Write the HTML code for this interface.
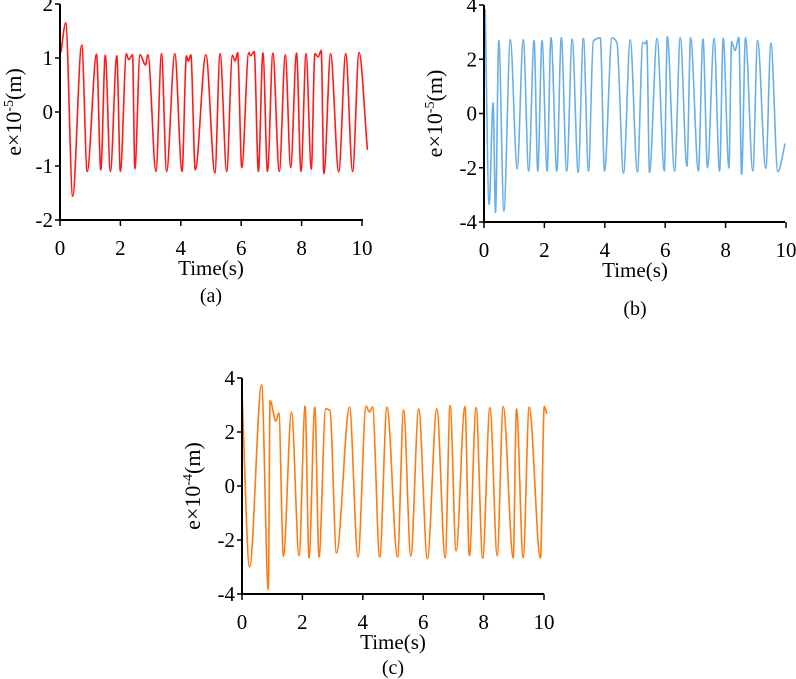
<!DOCTYPE html>
<html><head><meta charset="utf-8">
<style>
html,body{margin:0;padding:0;background:#fff;}
svg{display:block;font-family:"Liberation Serif",serif;}
</style></head>
<body>
<svg id="fig" width="796" height="679" viewBox="0 0 796 679" xmlns="http://www.w3.org/2000/svg"></svg>
<script>
// Chart (a) data
const timeA=[0.03,0.19,0.42,0.72,0.9,1.21,1.35,1.5,1.67,1.88,2.0,2.2,2.27,2.4,2.48,2.65,2.83,2.91,3.18,3.36,3.53,3.8,4.04,4.19,4.25,4.33,4.48,4.83,5.13,5.3,5.52,5.71,5.8,5.88,6.02,6.25,6.31,6.43,6.57,6.72,6.87,7.05,7.26,7.46,7.64,7.83,7.98,8.15,8.32,8.44,8.55,8.65,8.74,8.96,9.23,9.46,9.69,9.9,10.18];
const valA=[1.1,1.65,-1.56,1.24,-1.1,1.07,-1.07,1.05,-1.1,1.04,-1.1,1.08,0.97,1.06,-1.05,1.06,0.87,1.06,-1.1,1.08,-1.1,1.08,-1.1,1.04,0.94,1.06,-1.07,1.06,-1.13,1.08,-1.1,1.05,0.94,1.1,-1.03,1.1,1.04,1.12,-1.1,1.09,-1.1,1.09,-1.1,1.06,-1.03,1.09,-1.1,1.08,-1.06,1.08,1.02,1.14,-1.14,1.08,-1.11,1.08,-1.1,1.1,-0.7];
const xTicksA=[0,2,4,6,8,10];
const yTicksA=[-2,-1,0,1,2];
// Chart (b) data
const timeB=[0.04,0.17,0.3,0.38,0.49,0.66,0.87,1.1,1.3,1.48,1.66,1.78,1.92,2.09,2.22,2.41,2.56,2.74,2.92,3.12,3.29,3.46,3.62,3.85,3.99,4.24,4.4,4.62,4.84,5.08,5.26,5.34,5.39,5.48,5.73,5.97,6.07,6.31,6.5,6.72,6.84,7.1,7.25,7.4,7.62,7.8,7.92,8.11,8.2,8.31,8.44,8.53,8.66,8.9,9.06,9.33,9.5,9.73,9.97];
const valB=[3.85,-3.36,0.4,-3.65,2.69,-3.6,2.72,-2.04,2.72,-2.12,2.69,-2.12,2.69,-2.12,2.79,-2.12,2.79,-2.12,2.74,-2.16,2.77,-2.12,2.67,2.79,-2.12,2.79,2.62,-2.2,2.72,-2.16,2.62,2.57,2.69,-2.17,2.77,-2.12,2.84,-2.12,2.79,-1.95,2.79,-2.12,2.74,-2.0,2.77,-2.12,2.77,-2.0,2.65,2.32,2.81,-2.25,2.79,-2.12,2.69,-2.02,2.59,-2.15,-1.11];
const xTicksB=[0,2,4,6,8,10];
const yTicksB=[-4,-2,0,2,4];
// Chart (c) data
const timeC=[0,0.25,0.65,0.87,0.93,1.12,1.22,1.37,1.64,1.89,2.09,2.22,2.41,2.55,2.77,2.91,3.13,3.56,3.84,4.11,4.22,4.32,4.56,4.8,5.15,5.35,5.59,5.85,6.14,6.45,6.73,6.89,7.09,7.38,7.53,7.75,7.97,8.21,8.45,8.65,8.98,9.09,9.31,9.51,9.88,10.01,10.1];
const valC=[3.47,-3.0,3.75,-3.83,3.17,2.4,2.7,-2.6,2.74,-2.58,2.96,-2.66,2.92,-2.63,2.86,2.8,-2.48,2.92,-2.63,2.96,2.74,2.92,-2.63,2.92,-2.63,2.82,-2.6,2.86,-2.7,2.86,-2.66,2.98,-2.4,2.94,-2.58,2.9,-2.67,2.9,-2.58,2.94,-2.66,2.85,-2.65,2.92,-2.67,2.94,2.67];
const xTicksC=[0,2,4,6,8,10];
const yTicksC=[-4,-2,0,2,4];

const NS="http://www.w3.org/2000/svg";
const svg=document.getElementById('fig');
function mk(tag,attrs,parent){const e=document.createElementNS(NS,tag);for(const k in attrs)e.setAttribute(k,attrs[k]);(parent||svg).appendChild(e);return e;}

function monotonePath(pts){
  const n=pts.length, dx=[], m=[], s=[];
  for(let i=0;i<n-1;i++){dx[i]=pts[i+1][0]-pts[i][0];s[i]=(pts[i+1][1]-pts[i][1])/dx[i];}
  m[0]=s[0];m[n-1]=s[n-2];
  for(let i=1;i<n-1;i++){m[i]=(s[i-1]*s[i]<=0)?0:(3*(dx[i-1]+dx[i]))/((2*dx[i]+dx[i-1])/s[i-1]+(dx[i]+2*dx[i-1])/s[i]);}
  let d='M'+pts[0][0].toFixed(1)+','+pts[0][1].toFixed(1);
  for(let i=0;i<n-1;i++){
    const h=dx[i]/3;
    d+=' C'+(pts[i][0]+h).toFixed(1)+','+(pts[i][1]+m[i]*h).toFixed(1)+' '+(pts[i+1][0]-h).toFixed(1)+','+(pts[i+1][1]-m[i+1]*h).toFixed(1)+' '+pts[i+1][0].toFixed(1)+','+pts[i+1][1].toFixed(1);
  }
  return d;
}

function drawChart(id,cfg,times,vals,xTicks,yTicks){
  const g=mk('g',{});
  
  
  const sx=t=>cfg.x0+t/10*(cfg.x10-cfg.x0);
  const ymax=yTicks[yTicks.length-1], ymin=yTicks[0];
  const sy=v=>cfg.yTop+(ymax-v)/(ymax-ymin)*(cfg.yBot-cfg.yTop);
  const pts=times.map((t,i)=>[sx(t),sy(vals[i])]);
  const line=mk('path',{d:monotonePath(pts),fill:'none',stroke:cfg.color,'stroke-width':1.6,'stroke-linejoin':'round'},g);
  
  
  const ya=mk('line',{x1:cfg.x0,y1:cfg.yTop,x2:cfg.x0,y2:cfg.yBot+1,stroke:'#000','stroke-width':2},g);
  
  
  const xa=mk('line',{x1:cfg.x0-1,y1:cfg.yBot,x2:cfg.xEnd,y2:cfg.yBot,stroke:'#000','stroke-width':2},g);
  
  
  yTicks.forEach(v=>{
    const y=sy(v);
    mk('line',{x1:cfg.x0-5,y1:y,x2:cfg.x0,y2:y,stroke:'#000','stroke-width':1.5},g);
    const t=mk('text',{x:cfg.x0-7,y:y+7,'font-size':21,'text-anchor':'end'},g);
    t.textContent=String(v);
    
    
  });
  xTicks.forEach(v=>{
    const x=sx(v);
    mk('line',{x1:x,y1:cfg.yBot,x2:x,y2:cfg.yBot+6,stroke:'#000','stroke-width':1.5},g);
    const t=mk('text',{x:x,y:cfg.yBot+35,'font-size':21,'text-anchor':'middle'},g);
    t.textContent=String(v);
    
    
  });
  const xt=mk('text',{x:(cfg.x0+cfg.x10)/2,y:cfg.yBot+55,'font-size':21,'text-anchor':'middle'},g);
  xt.textContent='Time(s)';
  
  
  const cap=mk('text',{x:(cfg.x0+cfg.x10)/2,y:cfg.capY,'font-size':20,'text-anchor':'middle'},g);
  cap.textContent='('+id+')';
  
  
  const cy=(cfg.yTop+cfg.yBot)/2;
  const yt=mk('text',{x:cfg.ylx,y:cy,'font-size':22,'text-anchor':'middle',transform:'rotate(-90 '+cfg.ylx+' '+cy+')'},g);
  
  
  yt.appendChild(document.createTextNode('e×10'));
  const sup=mk('tspan',{'font-size':14,dy:-8},yt);sup.textContent=cfg.exp;
  const rest=mk('tspan',{dy:8},yt);rest.textContent='(m)';
}

drawChart('a',{x0:60,x10:362,xEnd:363,yTop:4,yBot:220,color:'#ff1a1a',exp:'-5',ylx:21,capY:302},timeA,valA,xTicksA,yTicksA);
drawChart('b',{x0:484,x10:786,xEnd:785,yTop:5,yBot:222,color:'#6aaee6',exp:'-5',ylx:442,capY:315},timeB,valB,xTicksB,yTicksB);
drawChart('c',{x0:242,x10:544,xEnd:544,yTop:378,yBot:594,color:'#ff7a10',exp:'-4',ylx:200,capY:674},timeC,valC,xTicksC,yTicksC);
</script>
</body></html>
